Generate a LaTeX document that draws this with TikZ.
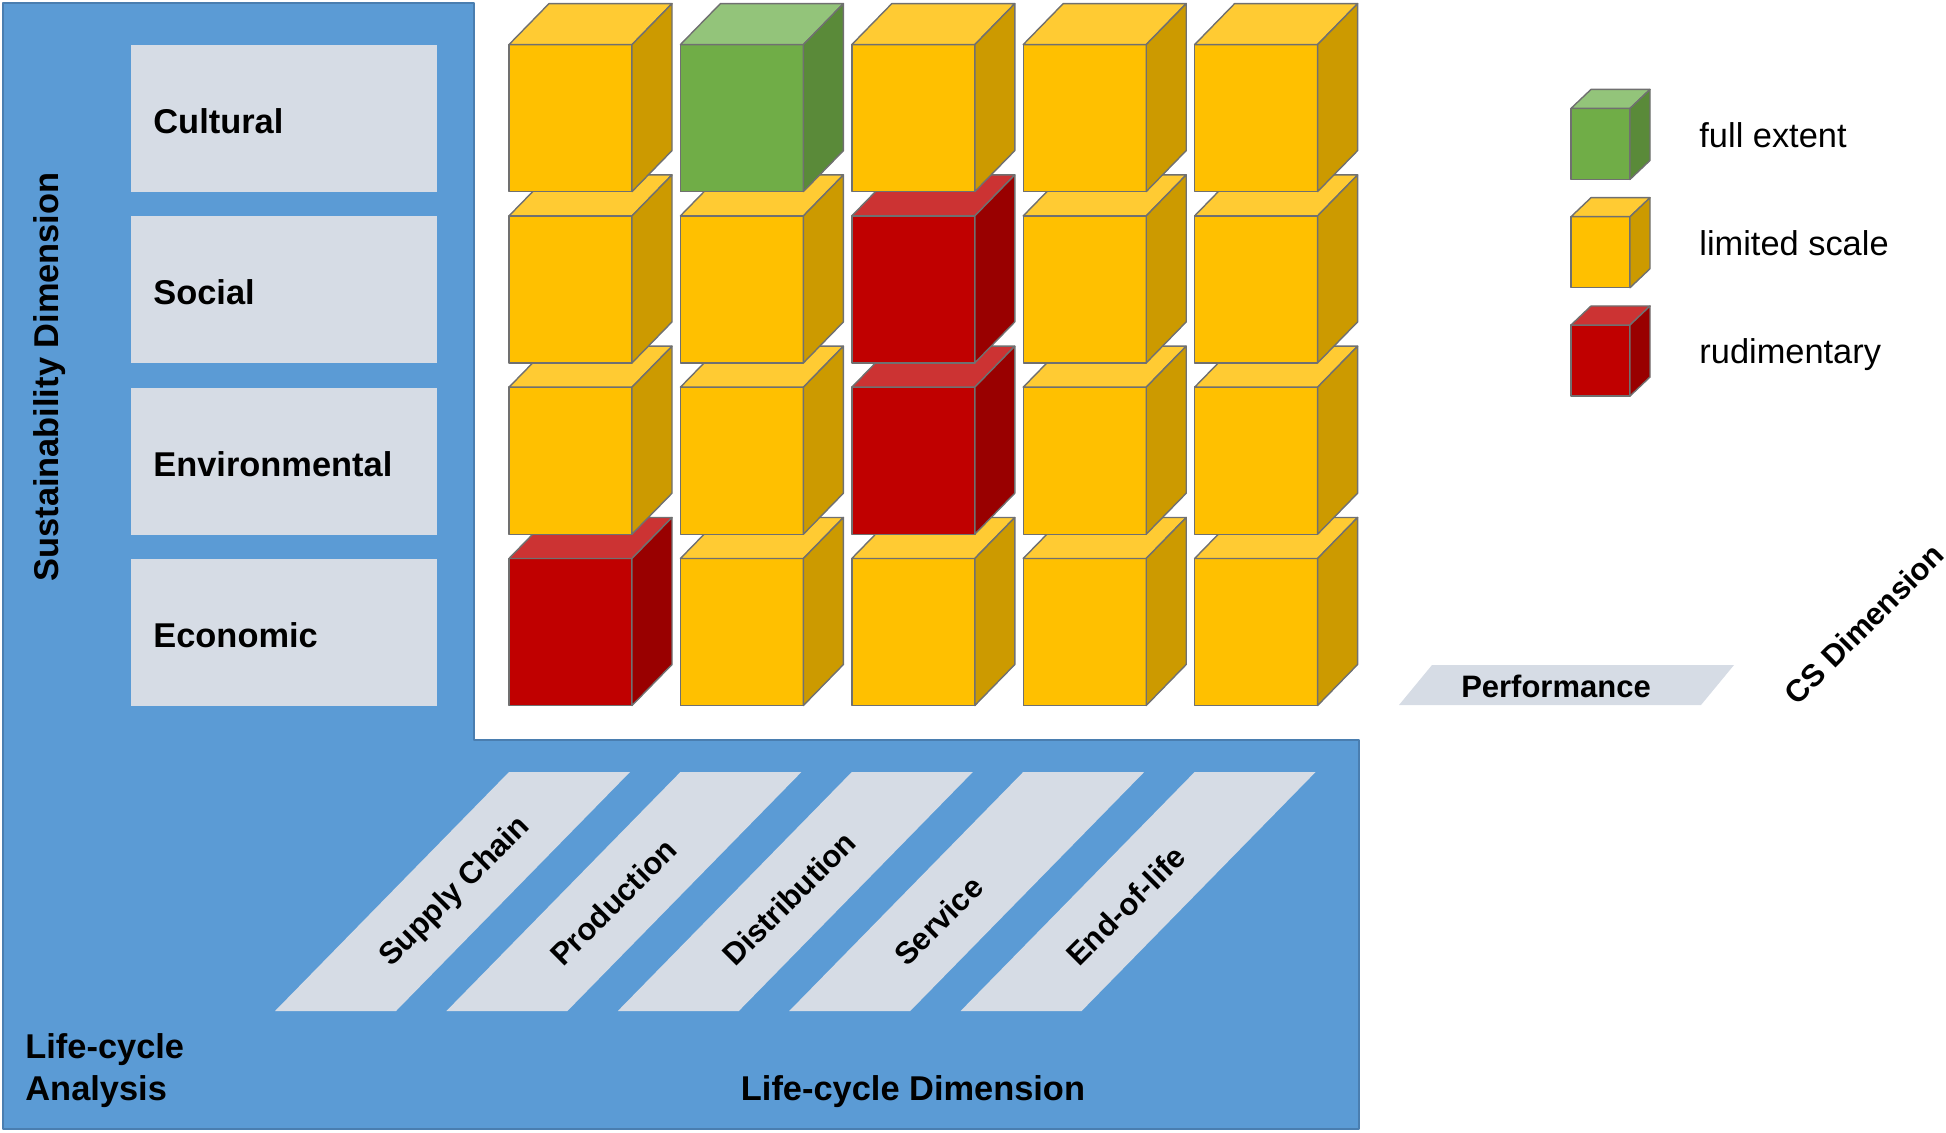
\documentclass[tikz,border=0pt]{standalone}
\usepackage{fontspec}
\setmainfont{Liberation Sans}
\definecolor{panel}{HTML}{5B9BD5}
\definecolor{panelline}{HTML}{4A7EB0}
\definecolor{tile}{HTML}{D6DCE5}
\definecolor{edge}{HTML}{707070}
\definecolor{Yfront}{HTML}{FFC000}
\definecolor{Ytop}{HTML}{FFCB33}
\definecolor{Yside}{HTML}{CC9A00}
\definecolor{Gfront}{HTML}{70AD47}
\definecolor{Gtop}{HTML}{93C47A}
\definecolor{Gside}{HTML}{5A8A39}
\definecolor{Rfront}{HTML}{C00000}
\definecolor{Rtop}{HTML}{CC3333}
\definecolor{Rside}{HTML}{990000}
% x y width height dx dy colour
\newcommand{\colcube}[7]{%
	\filldraw[fill=#7front] (#1,#2) rectangle ++(#3,#4);
	\filldraw[fill=#7top] (#1,#2) -- ++(#5,-#6) -- ++(#3,0) -- ++(-#5,#6) -- cycle;
	\filldraw[fill=#7side] (#1+#3,#2) -- ++(#5,-#6) -- ++(0,#4) -- ++(-#5,#6) -- cycle;}
\begin{document}
\begin{tikzpicture}[x=0.5pt, y=-0.5pt, line join=round,
	big/.style={font=\fontsize{17.2}{21}\selectfont\bfseries, inner sep=0pt},
	mid/.style={font=\fontsize{15.5}{19}\selectfont\bfseries, inner sep=0pt},
	dimbox/.style={fill=tile, anchor=north west, minimum width=153pt, minimum height=73.6pt, inner sep=0pt},
	stage/.style={mid, rotate=45, anchor=base west},
	legtext/.style={font=\fontsize{17.2}{21}\selectfont, anchor=base west, inner sep=0pt}]
	\useasboundingbox (0,0) rectangle (1946,1133);
	
	\filldraw[fill=panel, draw=panelline, line width=0.6pt] (3,3) -- (474,3) -- (474,740) -- (1359,740) -- (1359,1129) -- (3,1129) -- cycle;
	
	\foreach \t [count=\k from 0] in {Cultural,Social,Environmental,Economic} {
		\node[dimbox] (dim\k) at (131,44.6+171.3*\k) {};
		\node[big, anchor=base west] (dimtext\k) at (153,133.5+171.3*\k) {\t};
	}
	\node[big, rotate=90, anchor=base] (sust) at (58,377) {Sustainability Dimension};
	
	\foreach \t [count=\k from 0] in {Supply Chain,Production,Distribution,Service,End-of-life} {
		\fill[tile] (509+171.4*\k,772) -- ++(121,0) -- ++(-234,239) -- ++(-121,0) -- cycle;
		\node[stage] (stage\k) at (391+172*\k,968) {\t};
	}
	\node[big, anchor=base west, align=left] (lca) at (25,1100) {Life-cycle\\Analysis};
	\node[big, anchor=base] (lcd) at (913,1100) {Life-cycle Dimension};
	
	\begin{scope}[draw=edge, line width=0.7pt]
		\foreach \r/\row in {3/{R,Y,Y,Y,Y},2/{Y,Y,R,Y,Y},1/{Y,Y,R,Y,Y},0/{Y,G,Y,Y,Y}}
			\foreach \c [count=\i from 0] in \row {
				\pgfmathsetmacro\cx{509+171.4*\i}
				\pgfmathsetmacro\cy{44.6+171.3*\r}
				\colcube{\cx}{\cy}{123}{147}{40}{41}{\c}
			}
		\foreach \c [count=\k from 0] in {G,Y,R} {
			\pgfmathsetmacro\cy{108.4+108.3*\k}
			\colcube{1571}{\cy}{59}{71}{20}{19}{\c}
		}
	\end{scope}
	\foreach \t [count=\k from 0] in {full extent,limited scale,rudimentary}
		\node[legtext] (leg\k) at (1699,147.4+108*\k) {\t};
	
	\fill[tile] (1432,665) -- (1734,665) -- (1701,705) -- (1399,705) -- cycle;
	\node[mid] (perf) at (1556,686) {Performance};
	\node[mid, rotate=45] (csd) at (1864,624) {CS Dimension};
\end{tikzpicture}
\end{document}
